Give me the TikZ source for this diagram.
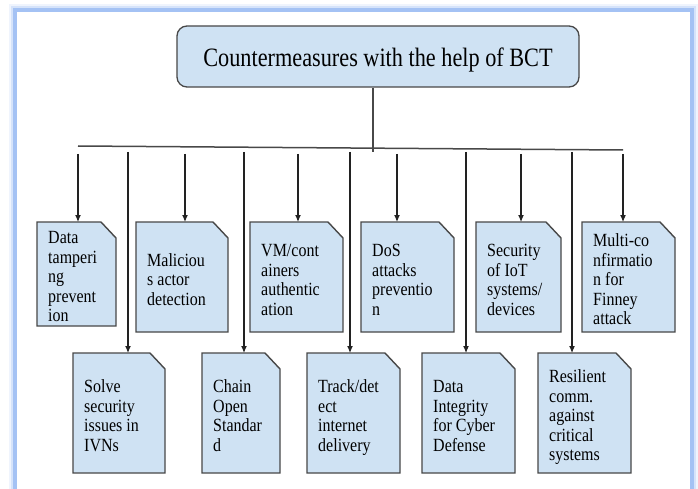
\documentclass[tikz,border=0pt]{standalone}
\usepackage{fontspec}
\setmainfont{Liberation Serif}
\usetikzlibrary{arrows.meta}

\definecolor{framebl}{RGB}{164,194,244}
\definecolor{boxfill}{RGB}{207,226,243}
\definecolor{boxline}{RGB}{72,72,72}
\definecolor{wire}{RGB}{34,34,34}

\tikzset{
  docbox/.style={fill=boxfill, draw=boxline, line width=1.4pt, line join=miter},
  doctext/.style={anchor=west, inner sep=0pt,
    font=\fontsize{18.6}{19.5}\selectfont},
  titlebox/.style={draw=boxline, fill=boxfill, line width=1.3pt,
    rounded corners=10pt, minimum width=402pt, minimum height=61pt, inner sep=0pt},
  titletext/.style={inner sep=0pt, anchor=base, font=\fontsize{26.5}{28}\selectfont},
  feed/.style={draw=wire, line width=1.1pt, -{Latex[length=7pt,width=6pt]}},
  bus/.style={draw=boxline, line width=1.5pt}
}

% folded-corner document box: name, left, top, right, bottom, lines of text
\newcommand\DocBox[6]{%
  \draw[docbox] (#2,#3) -- (#4-15,#3) -- (#4,#3+16) -- (#4,#5) -- (#2,#5) -- cycle;
  \node[doctext] (#1) at (#2+11,{(#3+#5)/2+5})
    {\scalebox{0.86}[1]{\begin{tabular}{@{}l@{}}#6\end{tabular}}};
}

\begin{document}
\begin{tikzpicture}[x=1pt,y=-1pt]
\useasboundingbox (0,0) rectangle (698,489);
\clip (0,0) rectangle (698,489);

% page frame with a soft outer glow
\draw[framebl, line width=11pt, opacity=0.18] (14.5,10) rectangle (692,600);
\draw[framebl, line width=8pt, opacity=0.35] (14.5,10) rectangle (692,600);
\fill[white] (16.5,12) rectangle (690,600);
\draw[framebl, line width=4pt] (14.5,10) rectangle (692,600);

% root
\node[titlebox] (root) at (378,56.5) {};
\node[titletext] (roottxt) at (378,67)
  {\scalebox{0.84}[1]{Countermeasures with the help of BCT}};

% distribution bar
\coordinate (busL) at (78,146);
\coordinate (busR) at (623,150);
\coordinate (rootfoot) at (373,152);
\draw[bus] (busL) -- (busR);
\draw[bus, line width=1.3pt] (root.south -| rootfoot) -- (rootfoot);

% upper row
\DocBox{T1}{37}{222}{116}{326}{Data\\tamperi\\ng\\prevent\\ion}
\DocBox{T2}{136}{222}{228}{332}{Maliciou\\s actor\\detection}
\DocBox{T3}{250}{222}{343}{332}{VM/cont\\ainers\\authentic\\ation}
\DocBox{T4}{361}{222}{454}{332}{DoS\\attacks\\preventio\\n}
\DocBox{T5}{476}{222}{561}{332}{Security\\of IoT\\systems/\\devices}
\DocBox{T6}{582}{222}{675}{332}{Multi-co\\nfirmatio\\n for\\Finney\\attack}

% lower row
\DocBox{B1}{73}{353}{165}{473}{Solve\\security\\issues in\\IVNs}
\DocBox{B2}{202}{353}{280}{473}{Chain\\Open\\Standar\\d}
\DocBox{B3}{307}{353}{400}{473}{Track/det\\ect\\internet\\delivery}
\DocBox{B4}{422}{353}{515}{473}{Data\\Integrity\\for Cyber\\Defense}
\DocBox{B5}{538}{353}{631}{473}{Resilient\\comm.\\against\\critical\\systems}

% drop points below the bar and entry points on the boxes
\foreach \n/\x in {T1/78,T2/185,T3/298,T4/397,T5/521,T6/623}{
  \coordinate (\n src) at (\x,154);
  \coordinate (\n in) at (\x,222);
  \draw[feed] (\n src) -- (\n in);
}
\foreach \n/\x in {B1/128,B2/244,B3/350,B4/466,B5/572}{
  \coordinate (\n src) at (\x,152);
  \coordinate (\n in) at (\x,353);
  \draw[feed] (\n src) -- (\n in);
}
\end{tikzpicture}
\end{document}
